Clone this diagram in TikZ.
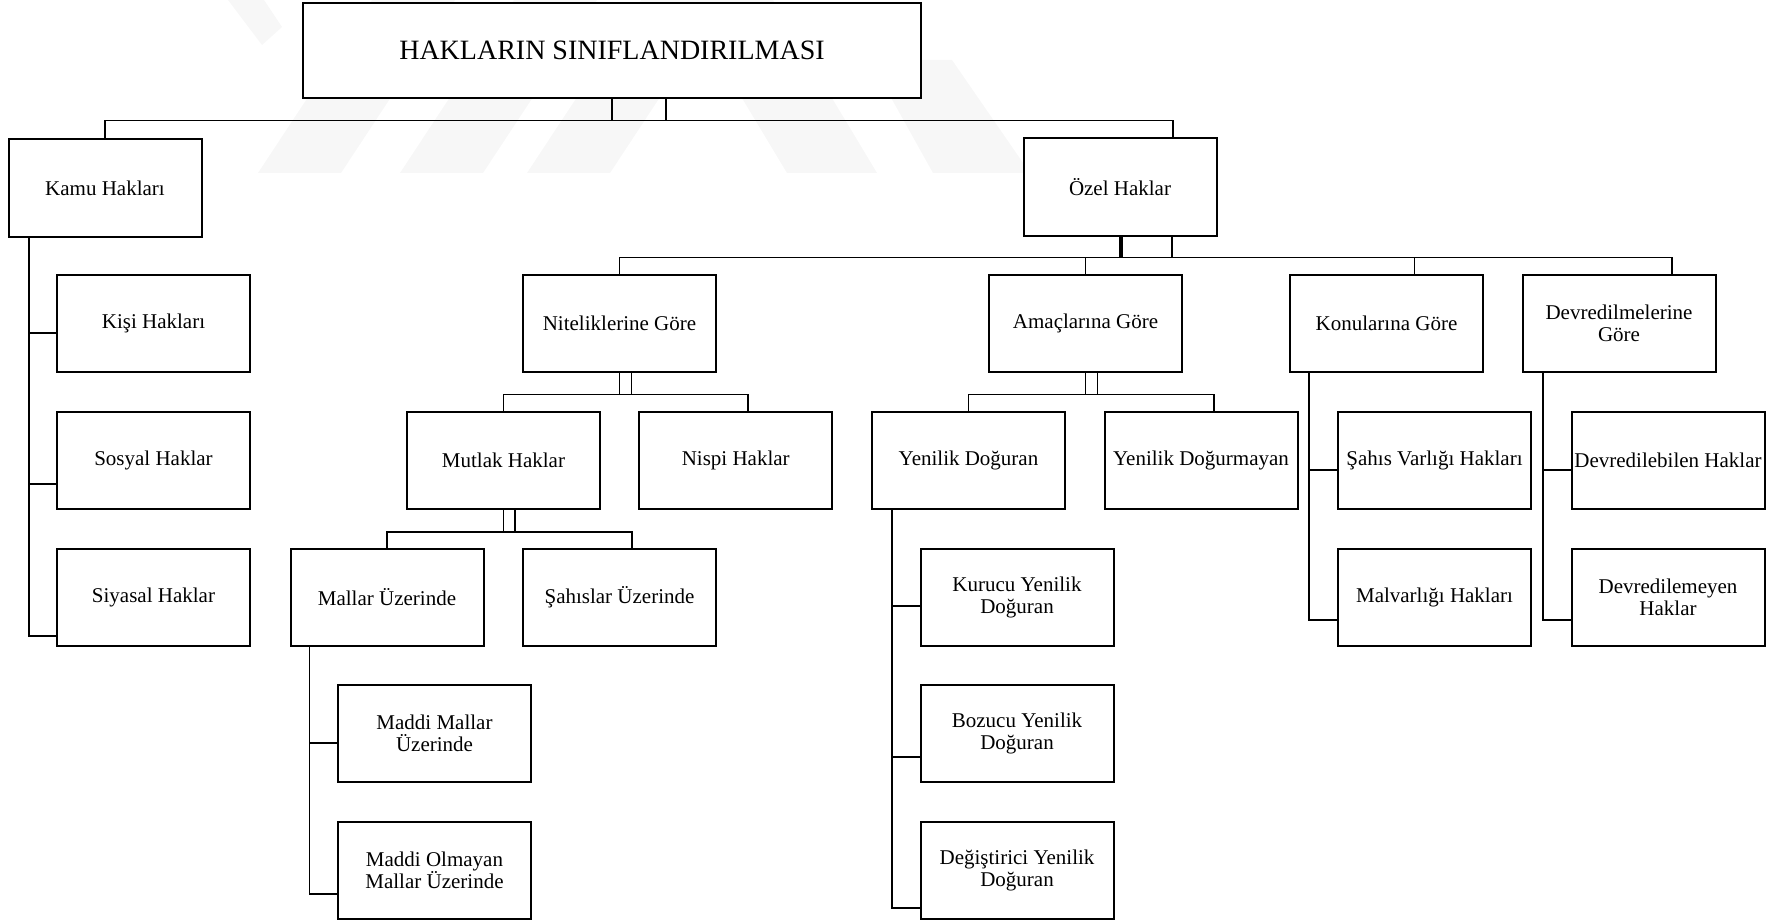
\documentclass[tikz,border=0pt]{standalone}
\usepackage{fontspec}
\setmainfont{Liberation Serif}

\begin{document}
\begin{tikzpicture}[x=1pt,y=-1pt,
  box/.style={draw,line width=2pt,fill=white,minimum width=193pt,minimum height=97pt,inner sep=0pt,align=center,font=\fontsize{21}{22}\selectfont},
  ttl/.style={box,minimum width=618pt,minimum height=95pt,font=\fontsize{28}{30}\selectfont},
  ln/.style={line width=1.8pt},
  wm/.style={fill=black!3}]

\useasboundingbox (0,0) rectangle (1771,920);

\fill[wm] (228,0) -- (264,0) -- (282,27) -- (262,45) -- cycle;
\fill[wm] (258,173) -- (341,173) -- (455,0) -- (372,0) -- cycle;
\fill[wm] (400,173) -- (483,173) -- (597,0) -- (514,0) -- cycle;
\fill[wm] (527,173) -- (610,173) -- (724,0) -- (641,0) -- cycle;
\fill[wm] (787,173) -- (877,173) -- (773,0) -- (683,0) -- cycle;
\fill[wm] (933,173) -- (1030,173) -- (952,60) -- (870,60) -- cycle;

\node[ttl] (hak) at (612,50.5) {HAKLARIN SINIFLANDIRILMASI};

\node[box] (kamu) at (105,188) {Kamu Hakları};
\node[box] (ozel) at (1120,187) {Özel Haklar};

\node[box] (kisi) at (153.5,323.5) {Kişi Hakları};
\node[box] (sosyal) at (153.5,460) {Sosyal Haklar};
\node[box] (siyasal) at (153.5,597) {Siyasal Haklar};

\node[box] (nitel) at (619.5,323.5) {Niteliklerine Göre};
\node[box] (amac) at (1085.5,323.5) {Amaçlarına Göre};
\node[box] (konu) at (1386.5,323.5) {Konularına Göre};
\node[box] (devr) at (1619,323.5) {Devredilmelerine\\Göre};

\node[box] (mutlak) at (503.5,460) {Mutlak Haklar};
\node[box] (nispi) at (735.75,460) {Nispi Haklar};
\node[box] (yenid) at (968.5,460) {Yenilik Doğuran};
\node[box] (yenim) at (1201,460) {Yenilik Doğurmayan};
\node[box] (sahisv) at (1434.5,460) {Şahıs Varlığı Hakları};
\node[box] (devb) at (1668,460) {Devredilebilen Haklar};

\node[box] (mallar) at (387,597) {Mallar Üzerinde};
\node[box] (sahisl) at (619.5,597) {Şahıslar Üzerinde};
\node[box] (kurucu) at (1017,597) {Kurucu Yenilik\\Doğuran};
\node[box] (malv) at (1434.5,597) {Malvarlığı Hakları};
\node[box] (devm) at (1668,597) {Devredilemeyen\\Haklar};

\node[box] (maddi) at (434.5,733.5) {Maddi Mallar\\Üzerinde};
\node[box] (maddio) at (434.5,870) {Maddi Olmayan\\Mallar Üzerinde};
\node[box] (bozucu) at (1017,733.5) {Bozucu Yenilik\\Doğuran};
\node[box] (degis) at (1017,870) {Değiştirici Yenilik\\Doğuran};

\draw[ln] ([xshift=54pt]hak.south) -- ++(0,21.5) -| (kamu.north);
\draw[ln] (hak.south) -- ++(0,21.5) -| ([xshift=53pt]ozel.north);

\draw[ln] ([xshift=-76pt]kamu.south) |- ([yshift=-9.5pt]kisi.west);
\draw[ln] ([xshift=-76pt]kamu.south) |- ([yshift=-24pt]sosyal.west);
\draw[ln] ([xshift=-76pt]kamu.south) |- ([yshift=-39pt]siyasal.west);

\draw[ln] ([xshift=52pt]ozel.south) -- ++(0,21) -| (nitel.north);
\draw[ln] ([xshift=2pt]ozel.south) -- ++(0,21) -| (amac.north);
\draw[ln] (ozel.south) -- ++(0,21) -| ([xshift=28pt]konu.north);
\draw[ln] ([xshift=2pt]ozel.south) -- ++(0,21) -| ([xshift=53pt]devr.north);

\draw[ln] ([xshift=12pt]nitel.south) -- ++(0,21.5) -| (mutlak.north);
\draw[ln] (nitel.south) -- ++(0,21.5) -| ([xshift=12.5pt]nispi.north);

\draw[ln] ([xshift=11.5pt]mutlak.south) -- ++(0,22.5) -| (mallar.north);
\draw[ln] (mutlak.south) -- ++(0,22.5) -| ([xshift=12.5pt]sahisl.north);

\draw[ln] ([xshift=-77.5pt]mallar.south) |- ([yshift=-9.5pt]maddi.west);
\draw[ln] ([xshift=-77.5pt]mallar.south) |- ([yshift=-24pt]maddio.west);

\draw[ln] ([xshift=12pt]amac.south) -- ++(0,21.5) -| (yenid.north);
\draw[ln] (amac.south) -- ++(0,21.5) -| ([xshift=13pt]yenim.north);

\draw[ln] ([xshift=-76.5pt]yenid.south) |- ([yshift=-9pt]kurucu.west);
\draw[ln] ([xshift=-76.5pt]yenid.south) |- ([yshift=-23.5pt]bozucu.west);
\draw[ln] ([xshift=-76.5pt]yenid.south) |- ([yshift=-38pt]degis.west);

\draw[ln] ([xshift=-77.5pt]konu.south) |- ([yshift=-10pt]sahisv.west);
\draw[ln] ([xshift=-77.5pt]konu.south) |- ([yshift=-23pt]malv.west);

\draw[ln] ([xshift=-76pt]devr.south) |- ([yshift=-10pt]devb.west);
\draw[ln] ([xshift=-76pt]devr.south) |- ([yshift=-23pt]devm.west);

\end{tikzpicture}
\end{document}
